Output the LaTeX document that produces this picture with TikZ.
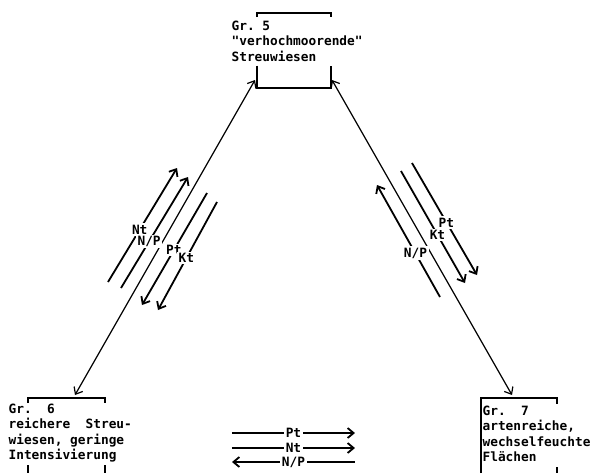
\documentclass[tikz,border=0pt]{standalone}
\usepackage{fontspec}
\setmonofont{DejaVu Sans Mono}
\usepackage{tikz}
\usetikzlibrary{calc}
\usetikzlibrary{arrows.meta}
\tikzset{every picture/.style={line width=0.6pt,x=0.5pt,y=-0.5pt},
txt/.style={font=\ttfamily\bfseries\fontsize{6.4}{7.8}\selectfont,align=left,anchor=north west,inner sep=0pt},
lbl/.style={font=\ttfamily\bfseries\fontsize{6.4}{7.8}\selectfont,fill=white,inner sep=0.8pt},
frame/.style={inner sep=0pt,outer sep=0pt,minimum height=37.5pt},
flow/.style={line width=0.9pt,-{Straight Barb[length=3pt,width=5pt]}},
link/.style={line width=0.6pt,{Straight Barb[length=3pt,width=5pt]}-{Straight Barb[length=3pt,width=5pt]}},
bar/.style={line width=1.1pt}}
\begin{document}
\begin{tikzpicture}
\useasboundingbox (0,0) rectangle (591,473);
\node (g5) at (294,50.5) [frame,minimum width=37pt] {};
\node (g6) at (66.5,435.5) [frame,minimum width=38.5pt] {};
\node (g7) at (519,435.5) [frame,minimum width=38pt] {};
\node (t5) at (231,20) [txt] {Gr. 5\\"verhochmoorende"\\Streuwiesen};
\node (t6) at (8,403) [txt] {Gr.~~6\\reichere~~Streu-\\wiesen, geringe\\Intensivierung};
\node (t7) at (482,405) [txt] {Gr.~~7\\artenreiche,\\wechselfeuchte\\Flächen};
\draw[bar] ($(g5.north west)+(0,4)$) -- (g5.north west) -- (g5.north east) -- +(0,4);
\draw[bar] ($(g5.west)+(0,15)$) -- (g5.south west) -- (g5.south east) -- ($(g5.east)+(0,15)$);
\draw[bar] ($(g6.north west)+(0,5)$) -- (g6.north west) -- (g6.north east) -- +(0,5);
\draw[bar] ($(g6.south west)+(0,-8)$) -- (g6.south west);
\draw[bar] ($(g6.south east)+(0,-8)$) -- (g6.south east);
\draw[bar] (g7.south west) -- (g7.north west) -- (g7.north east) -- +(0,6);
\draw[bar] ($(g7.south east)+(0,-6)$) -- (g7.south east);
\draw[link] ([shift={(8.5,-3)}]g6.north) -- ([shift={(-2,-8)}]g5.south west);
\draw[link] ([shift={(1,-8)}]g5.south east) -- ([shift={(-7,-3)}]g7.north);
\foreach \sx/\sy/\ex/\ey/\t/\p in {108/282/177/168/Nt/0.46,121/288/188/177/{N/P}/0.42,
207/193/142/305/Pt/0.51,217/202/158/310/Kt/0.52,
440/297/377/185/{N/P}/0.39,401/171/465/283/Kt/0.57,412/163/477/275/Pt/0.53}{
\draw[flow] (\sx,\sy) -- node[lbl,pos=\p] {\t} (\ex,\ey);
}
\foreach \y/\sx/\ex/\t in {433/232/355/Pt,448/232/355/Nt,462/355/232/{N/P}}{
\draw[flow] (\sx,\y) -- node[lbl,pos=0.5] {\t} (\ex,\y);
}
\end{tikzpicture}
\end{document}
